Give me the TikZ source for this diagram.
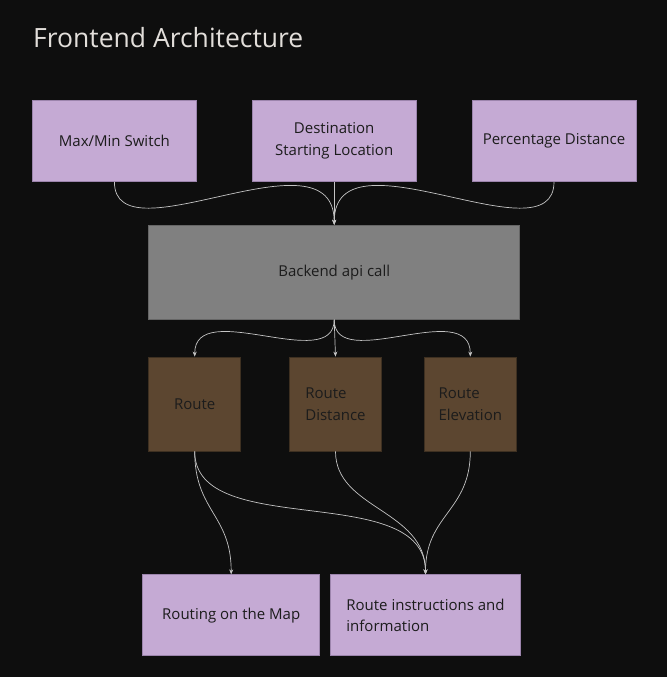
\documentclass[tikz,border=0pt]{standalone}
\usepackage{fontspec}
\setmainfont{Open Sans}
\usetikzlibrary{positioning,arrows.meta}

\definecolor{bgdark}{HTML}{0E0E0E}
\definecolor{lavender}{HTML}{C5AAD4}
\definecolor{lavenderedge}{HTML}{9C84AC}
\definecolor{apigray}{HTML}{808080}
\definecolor{apiedge}{HTML}{666666}
\definecolor{brownbox}{HTML}{5C4630}
\definecolor{brownedge}{HTML}{3E3021}
\definecolor{wirecol}{HTML}{C4C4C4}
\definecolor{boxtext}{HTML}{1C1C1C}
\definecolor{titletext}{HTML}{E2DEDA}

\tikzset{
  boxfont/.style={font=\fontsize{15}{21.5}\selectfont, text=boxtext},
  inputbox/.style={boxfont, draw=lavenderedge, fill=lavender, line width=0.8pt,
    minimum width=164pt, minimum height=81pt, inner sep=0pt, align=center},
  apibox/.style={boxfont, draw=apiedge, fill=apigray, line width=0.8pt,
    minimum width=371pt, minimum height=94pt, inner sep=0pt},
  resultbox/.style={boxfont, draw=brownedge, fill=brownbox, line width=0.8pt,
    minimum width=92pt, minimum height=94pt, inner sep=0pt, align=left},
  outputbox/.style={boxfont, draw=lavenderedge, fill=lavender, line width=0.8pt,
    minimum height=81pt, inner sep=0pt, align=left},
  wire/.style={draw=wirecol, line width=0.7pt, ->}
}

\begin{document}
\begin{tikzpicture}[x=1pt, y=1pt, >={Stealth[length=5pt,width=4pt]}]

% background and page size
\fill[bgdark] (0,0) rectangle (667,-677);
\useasboundingbox (0,0) rectangle (667,-677);

% title
\node[anchor=base west, font=\fontsize{26.5}{30}\selectfont, text=titletext, inner sep=0pt] (title) at (33,-48) {Frontend Architecture};

% inputs
\node[inputbox, anchor=north west] (maxmin) at (32,-100) {Max/Min Switch};
\node[inputbox, right=55pt of maxmin] (dest) {Destination\\Starting Location};
\node[inputbox, right=55pt of dest] (percent) {Percentage Distance};

% api
\node[apibox, below=43pt of dest] (backend) {Backend api call};

% results
\node[resultbox, below right=37pt and 0pt of backend.south west] (route) {Route};
\node[resultbox, right=48pt of route] (routedist) {Route\\Distance};
\node[resultbox, right=42pt of routedist] (routeelev) {Route\\Elevation};

% outputs
\node[outputbox, minimum width=177pt, below right=123pt and -6pt of route.south west] (routemap) {Routing on the Map};
\node[outputbox, minimum width=190pt, right=10pt of routemap] (routeinfo) {Route instructions and\\information};

% wires into the api
\draw[wire] (maxmin.south) .. controls +(0,-80) and +(0,100) .. (backend.north);
\draw[wire] (dest.south) -- (backend.north);
\draw[wire] (percent.south) .. controls +(0,-80) and +(0,100) .. (backend.north);

% wires out of the api
\draw[wire] (backend.south) .. controls +(0,-55) and +(0,60) .. (route.north);
\draw[wire] (backend.south) -- (routedist.north);
\draw[wire] (backend.south) .. controls +(0,-55) and +(0,60) .. (routeelev.north);

% wires to the outputs
\draw[wire] (route.south) .. controls +(0,-60) and +(0,60) .. (routemap.north);
\draw[wire] (route.south) .. controls +(0,-90) and +(0,95) .. (routeinfo.north);
\draw[wire] (routedist.south) .. controls +(0,-58) and +(0,65) .. (routeinfo.north);
\draw[wire] (routeelev.south) .. controls +(0,-60) and +(0,60) .. (routeinfo.north);

\end{tikzpicture}
\end{document}
